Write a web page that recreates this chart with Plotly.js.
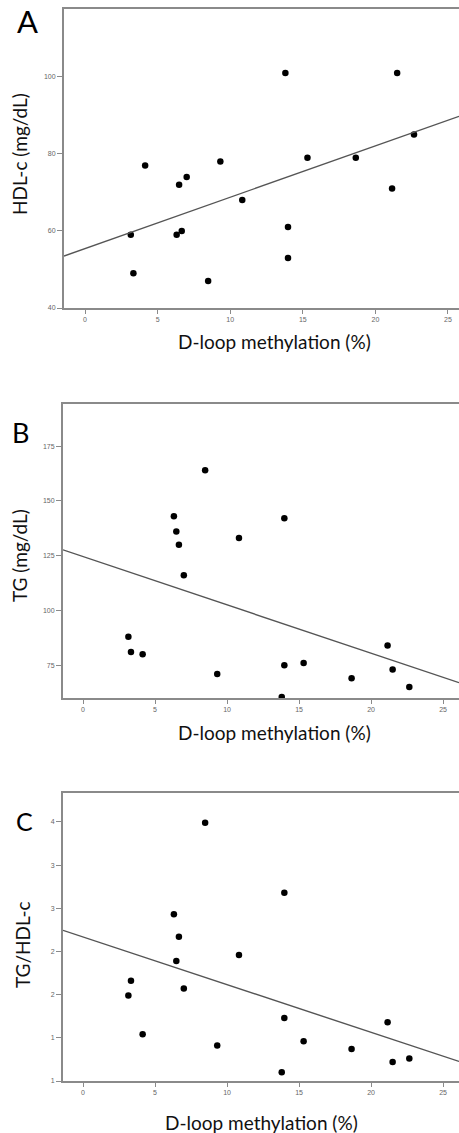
<!DOCTYPE html>
<html>
<head>
<meta charset="utf-8">
<script src="https://cdn.plot.ly/plotly-3.0.1.min.js"></script>
<style>
html,body{margin:0;padding:0;background:#fff;overflow:hidden;}
#chart{width:459px;height:1133px;}
</style>
</head>
<body>
<div id="chart"></div>
<script>
// ---- data ----
const methylation = [3.15, 3.33, 4.14, 6.31, 6.48, 6.66, 7.0, 8.48, 9.32, 10.83, 13.8, 13.98, 13.98, 15.32, 18.65, 21.15, 21.5, 22.66];
const hdl = [59, 49, 77, 59, 72, 60, 74, 47, 78, 68, 101, 61, 53, 79, 79, 71, 101, 85];
const tg = [88, 81, 80, 143, 136, 130, 116, 164, 71, 133, 60.5, 75, 142, 76, 69, 84, 73, 65];
const ratio = [1.49, 1.66, 1.04, 2.43, 1.89, 2.17, 1.57, 3.49, 0.91, 1.96, 0.60, 1.23, 2.68, 0.96, 0.87, 1.18, 0.72, 0.76];

const xTicks = [0, 5, 10, 15, 20, 25];
const hdlTicks = [40, 60, 80, 100];
const tgTicks = [75, 100, 125, 150, 175];
const ratioTicks = [0.5, 1.0, 1.5, 2.0, 2.5, 3.0, 3.5];
const ratioTickText = ["1", "1", "2", "2", "3", "3", "4"];

const xTitle = "D-loop methylation (%)";
const yTitles = ["HDL-c (mg/dL)", "TG (mg/dL)", "TG/HDL-c"];
const panelLetters = ["A", "B", "C"];

// ---- helpers ----
const W = 459, H = 1133;
const px = v => v / W;
const py = v => 1 - v / H;

function fit(xs, ys) {
  const n = xs.length;
  const mx = xs.reduce((a, b) => a + b, 0) / n;
  const my = ys.reduce((a, b) => a + b, 0) / n;
  let sxy = 0, sxx = 0;
  for (let i = 0; i < n; i++) { sxy += (xs[i] - mx) * (ys[i] - my); sxx += (xs[i] - mx) ** 2; }
  const b = sxy / sxx;
  return { b: b, a: my - b * mx };
}

const panels = [
  { y: hdl, xr: [-1.45, 25.76], yr: [40, 117.6], dom: [9, 308], xl: 64, yt: hdlTicks, ytt: null },
  { y: tg, xr: [-1.39, 26.11], yr: [60, 194.2], dom: [404, 698], xl: 63, yt: tgTicks, ytt: null },
  { y: ratio, xr: [-1.39, 26.11], yr: [0.5, 3.835], dom: [793, 1081], xl: 63, yt: ratioTicks, ytt: ratioTickText }
];

const traces = [];
const layout = {
  width: W, height: H,
  margin: { l: 0, r: 0, t: 0, b: 0 },
  paper_bgcolor: "#fff", plot_bgcolor: "#fff",
  showlegend: false,
  annotations: []
};

const tickFont = { family: "Liberation Sans, Arial, sans-serif", size: 7, color: "#666" };
const axisColor = "#8a8a8a";

panels.forEach((p, i) => {
  const k = i === 0 ? "" : String(i + 1);
  traces.push({
    type: "scatter", mode: "markers",
    x: methylation, y: p.y,
    xaxis: "x" + k, yaxis: "y" + k,
    marker: { color: "#000", size: 6.5 },
    hoverinfo: "x+y"
  });
  const f = fit(methylation, p.y);
  traces.push({
    type: "scatter", mode: "lines",
    x: [p.xr[0], p.xr[1]],
    y: [f.a + f.b * p.xr[0], f.a + f.b * p.xr[1]],
    xaxis: "x" + k, yaxis: "y" + k,
    line: { color: "#555", width: 1.4 },
    hoverinfo: "skip"
  });
  layout["xaxis" + k] = {
    domain: [px(p.xl), 1],
    anchor: "y" + k,
    range: p.xr,
    tickvals: xTicks,
    ticks: "outside", ticklen: 4, tickwidth: 1, tickcolor: axisColor,
    tickfont: tickFont,
    showgrid: false, zeroline: false,
    showline: true, linecolor: axisColor, linewidth: 2, mirror: true
  };
  const ya = {
    domain: [py(p.dom[1]), py(p.dom[0])],
    anchor: "x" + k,
    range: p.yr,
    tickvals: p.yt,
    ticks: "outside", ticklen: 5, tickwidth: 1, tickcolor: axisColor,
    tickfont: tickFont,
    showgrid: false, zeroline: false,
    showline: true, linecolor: axisColor, linewidth: 2, mirror: false
  };
  if (p.ytt) ya.ticktext = p.ytt;
  layout["yaxis" + k] = ya;
});

const titleFont = { family: "Lato, Open Sans, sans-serif", size: 19, color: "#111" };
const xTitlePos = [[274, 342], [274, 732], [261, 1122]];
const yTitlePos = [[20, 154], [20, 556], [22, 945]];
const letterPos = [[27, 21, 31], [20, 432, 27], [24, 821, 25]];

for (let i = 0; i < 3; i++) {
  layout.annotations.push({
    xref: "paper", yref: "paper", x: px(xTitlePos[i][0]), y: py(xTitlePos[i][1]),
    xanchor: "center", yanchor: "middle", showarrow: false,
    text: xTitle, font: titleFont
  });
  layout.annotations.push({
    xref: "paper", yref: "paper", x: px(yTitlePos[i][0]), y: py(yTitlePos[i][1]),
    xanchor: "center", yanchor: "middle", showarrow: false, textangle: -90,
    text: yTitles[i], font: titleFont
  });
  layout.annotations.push({
    xref: "paper", yref: "paper", x: px(letterPos[i][0]), y: py(letterPos[i][1]),
    xanchor: "center", yanchor: "middle", showarrow: false,
    text: panelLetters[i],
    font: { family: "Lato, Open Sans, sans-serif", size: letterPos[i][2], color: "#000" }
  });
}

Plotly.newPlot("chart", traces, layout, { displayModeBar: false, staticPlot: true });
</script>
</body>
</html>
